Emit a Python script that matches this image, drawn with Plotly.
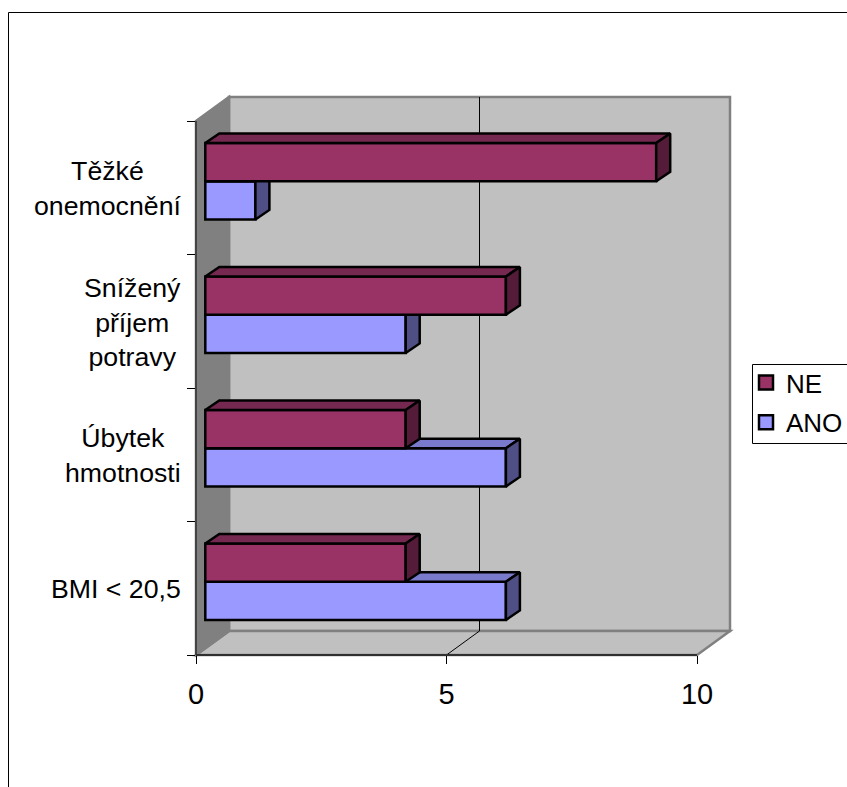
import plotly.graph_objects as go

# ---- data (bottom to top) ----
categories = ["BMI < 20,5", "Úbytek<br>hmotnosti", "Snížený<br>příjem<br>potravy", "Těžké<br>onemocnění"]
ne_values = [4.0, 4.0, 6.0, 9.0]
ano_values = [6.0, 6.0, 4.0, 1.0]
x_ticks = [0, 5, 10]

# ---- layout geometry (pixels in the 847x787 page) ----
W, H = 847, 787
L, R, T, B = 196, 730, 97, 655
PX_X = 50.1
PX_Y = 133.5
WALL_DX, WALL_DY = 33, 24

def dx(p):
    return p / PX_X

def dy(p):
    return p / PX_Y

def pxp(x):
    return (x - L) / (R - L)

def pyp(y):
    return (B - y) / (B - T)

x_range = [0, (R - L) / PX_X]
y_range = [-0.5, -0.5 + (B - T) / PX_Y]

BAR_H = dy(38.2)
BASE = dx(9.3)
SHIFT = dy(6.5)
DEPTH_X, DEPTH_Y = dx(14), dy(9.5)

series = [
    ("ANO", ano_values, "#9999FF", "#7A7ACC", "#4F4F85", -dy(19.1), "x", "y"),
    ("NE", ne_values, "#993366", "#752850", "#541C38", dy(19.1), "x2", "y2"),
]

fig = go.Figure()
for name, vals, front, top, side, off, xa, ya in series:
    ys = [i + SHIFT + off for i in range(len(vals))]
    fig.add_trace(go.Bar(
        y=ys, x=vals, base=BASE, orientation="h", width=BAR_H,
        marker=dict(color=front, line=dict(color="black", width=2.5)),
        xaxis=xa, yaxis=ya, showlegend=False, hoverinfo="skip",
    ))
    for v, yc in zip(vals, ys):
        x0, x1 = BASE, BASE + v
        y0, y1 = yc - BAR_H / 2, yc + BAR_H / 2
        fig.add_trace(go.Scatter(
            x=[x0, x1, x1 + DEPTH_X, x0 + DEPTH_X, x0],
            y=[y1, y1, y1 + DEPTH_Y, y1 + DEPTH_Y, y1],
            fill="toself", fillcolor=top, mode="lines",
            line=dict(color="black", width=2.5),
            xaxis=xa, yaxis=ya, showlegend=False, hoverinfo="skip",
        ))
        fig.add_trace(go.Scatter(
            x=[x1, x1 + DEPTH_X, x1 + DEPTH_X, x1, x1],
            y=[y1, y1 + DEPTH_Y, y0 + DEPTH_Y, y0, y1],
            fill="toself", fillcolor=side, mode="lines",
            line=dict(color="black", width=2.5),
            xaxis=xa, yaxis=ya, showlegend=False, hoverinfo="skip",
        ))

# legend entries (NE first)
for name, color in [("NE", "#993366"), ("ANO", "#9999FF")]:
    fig.add_trace(go.Scatter(
        x=[None], y=[None], mode="markers", name=name, legendgroup=name,
        marker=dict(symbol="square", size=14, color=color, line=dict(color="black", width=2.5)),
    ))

GREY = "#808080"
WALL = "#C0C0C0"

def poly(points, fill, line=GREY, width=2.5, layer="below"):
    path = "M " + " L ".join(f"{pxp(x):.5f},{pyp(y):.5f}" for x, y in points) + " Z"
    return dict(type="path", xref="paper", yref="paper", path=path, fillcolor=fill,
                line=dict(color=line, width=width), layer=layer)

def seg(x0, y0, x1, y1, color="black", width=1, layer="below"):
    return dict(type="line", xref="paper", yref="paper", x0=pxp(x0), y0=pyp(y0), x1=pxp(x1), y1=pyp(y1),
                line=dict(color=color, width=width), layer=layer)

x5 = L + 5 * PX_X
x10 = L + 10 * PX_X
shapes = [
    poly([(L + WALL_DX, T), (R, T), (R, B - WALL_DY), (L + WALL_DX, B - WALL_DY)], WALL),
    poly([(L, B), (L + WALL_DX, B - WALL_DY), (R, B - WALL_DY), (x10, B)], WALL),
    poly([(L, T + WALL_DY), (L + WALL_DX, T), (L + WALL_DX, B - WALL_DY), (L, B)], GREY),
    seg(x5 + WALL_DX, T, x5 + WALL_DX, B - WALL_DY),
    seg(x5, B, x5 + WALL_DX, B - WALL_DY),
    seg(L, B, x10, B, "#303030", 2),
    seg(L, T + WALL_DY, L, B, "#303030", 1.5),
    # legend frame and chart frame
    dict(type="rect", xref="paper", yref="paper", x0=pxp(752.5), x1=pxp(860), y0=pyp(364.5), y1=pyp(443.5),
         line=dict(color="black", width=1), fillcolor="white", layer="below"),
    dict(type="rect", xref="paper", yref="paper", x0=pxp(8.5), x1=pxp(900), y0=pyp(12.5), y1=pyp(900),
         line=dict(color="black", width=1), fillcolor="rgba(0,0,0,0)", layer="below"),
]

annotations = [
    dict(text=c, x=pxp(183), y=i, xref="paper", yref="y", xanchor="right", yanchor="middle",
         align="center", showarrow=False, yshift=-1,
         font=dict(family="Liberation Sans", size=26.7, color="black"))
    for i, c in enumerate(categories)
]

axis_common = dict(showgrid=False, zeroline=False, showline=False)
fig.update_layout(
    width=W, height=H,
    margin=dict(l=L, r=W - R, t=T, b=H - B, pad=0, autoexpand=False),
    paper_bgcolor="white", plot_bgcolor="rgba(0,0,0,0)",
    barmode="overlay",
    font=dict(family="Liberation Sans", color="black"),
    xaxis=dict(range=x_range, tickvals=x_ticks, ticktext=[str(t) for t in x_ticks],
               ticks="outside", ticklen=8, tickcolor="black", tickwidth=1,
               ticklabelstandoff=5, tickfont=dict(size=29), **axis_common),
    yaxis=dict(range=y_range, tickvals=[i - 0.5 for i in range(len(categories) + 1)],
               ticktext=[""] * (len(categories) + 1),
               ticks="outside", ticklen=8, tickcolor="black", tickwidth=1, **axis_common),
    xaxis2=dict(range=x_range, overlaying="x", visible=False, matches="x"),
    yaxis2=dict(range=y_range, overlaying="y", visible=False, matches="y"),
    legend=dict(x=pxp(746), y=pyp(359), xanchor="left", yanchor="top",
                bgcolor="rgba(0,0,0,0)", borderwidth=0, font=dict(size=26, family="Liberation Sans"),
                traceorder="grouped", tracegroupgap=3),
    shapes=shapes, annotations=annotations,
)

fig.write_html("out.html", config=dict(displayModeBar=False),
               post_script="document.body.style.margin='0';document.body.style.overflow='hidden';")
